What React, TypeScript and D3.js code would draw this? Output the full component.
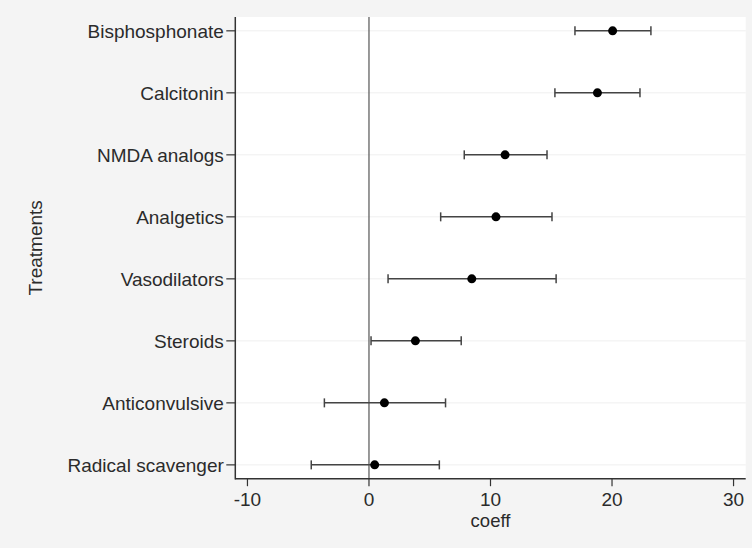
import React from "react";
import * as d3 from "d3";

const treatments = [
  "Bisphosphonate",
  "Calcitonin",
  "NMDA analogs",
  "Analgetics",
  "Vasodilators",
  "Steroids",
  "Anticonvulsive",
  "Radical scavenger",
];
const coefs = [20.05, 18.8, 11.2, 10.45, 8.46, 3.82, 1.27, 0.47];
const lower = [16.95, 15.3, 7.84, 5.9, 1.57, 0.17, -3.67, -4.75];
const upper = [23.2, 22.3, 14.65, 15.06, 15.4, 7.59, 6.3, 5.79];
const xTicks = [-10, 0, 10, 20, 30];
const xDomain = [-11, 31];

const W = 752;
const H = 548;
const left = 235.3;
const right = 745.7;
const top = 17;
const bottom = 478.7;
const font = "'Liberation Sans', Arial, sans-serif";
const textColor = "#2b2b2b";

export default function App() {
  const x = d3.scaleLinear().domain(xDomain).range([left, right]);
  const y = d3.scalePoint<string>().domain(treatments).range([top, bottom]).padding(0.223);
  const rows = treatments.map((t, i) => ({ t, c: coefs[i], lo: lower[i], hi: upper[i] }));

  return (
    <svg width={W} height={H} style={{ position: "absolute", left: 0, top: 0 }} fontFamily={font}>
      <rect x={0} y={0} width={W} height={H} fill="#f4f4f4" />
      <rect x={left} y={top} width={right - left} height={bottom - top} fill="#ffffff" />
      {rows.map((r) => (
        <line key={"g" + r.t} x1={left} x2={right} y1={y(r.t)} y2={y(r.t)} stroke="#efefef" strokeWidth={1} />
      ))}
      <line x1={x(0)} x2={x(0)} y1={top} y2={bottom} stroke="#555" strokeWidth={1.2} />
      {rows.map((r) => {
        const yy = y(r.t)!;
        return (
          <g key={"e" + r.t}>
            <line x1={x(r.lo)} x2={x(r.hi)} y1={yy} y2={yy} stroke="#444" strokeWidth={1.5} />
            <line x1={x(r.lo)} x2={x(r.lo)} y1={yy - 4.5} y2={yy + 4.5} stroke="#444" strokeWidth={1.5} />
            <line x1={x(r.hi)} x2={x(r.hi)} y1={yy - 4.5} y2={yy + 4.5} stroke="#444" strokeWidth={1.5} />
            <circle cx={x(r.c)} cy={yy} r={4.5} fill="#000" />
          </g>
        );
      })}
      {/* axes */}
      <line x1={left} x2={left} y1={top} y2={bottom + 0.75} stroke="#333" strokeWidth={1.5} />
      <line x1={left} x2={right} y1={bottom} y2={bottom} stroke="#333" strokeWidth={1.5} />
      {rows.map((r) => {
        const yy = y(r.t)!;
        return (
          <g key={"yt" + r.t}>
            <line x1={left - 9} x2={left} y1={yy} y2={yy} stroke="#333" strokeWidth={1.2} />
            <text x={left - 11.5} y={yy + 7} textAnchor="end" fontSize={19} fill={textColor}>
              {r.t}
            </text>
          </g>
        );
      })}
      {xTicks.map((v) => (
        <g key={"xt" + v}>
          <line x1={x(v)} x2={x(v)} y1={bottom} y2={bottom + 7.5} stroke="#333" strokeWidth={1.2} />
          <text x={x(v)} y={506} textAnchor="middle" fontSize={19} fill={textColor}>
            {v}
          </text>
        </g>
      ))}
      <text x={(left + right) / 2} y={527} textAnchor="middle" fontSize={18.5} fill={textColor}>
        coeff
      </text>
      <text
        transform={`translate(41.5, ${(top + bottom) / 2}) rotate(-90)`}
        textAnchor="middle"
        fontSize={19}
        fill={textColor}
      >
        Treatments
      </text>
    </svg>
  );
}
